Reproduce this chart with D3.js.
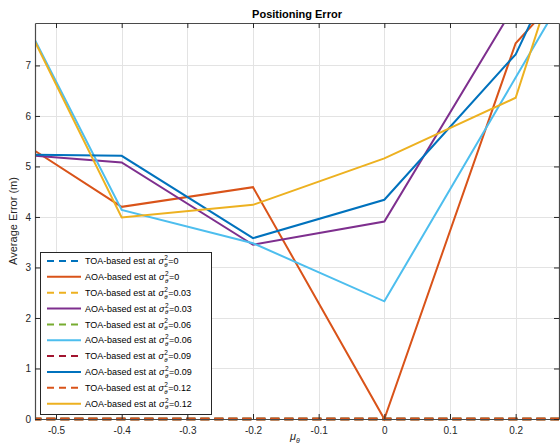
<!DOCTYPE html>
<html>
<head>
<meta charset="utf-8">
<script src="https://cdn.jsdelivr.net/npm/d3@7"></script>
<style>
  html, body { margin: 0; padding: 0; background: #fff; }
  svg { display: block; font-family: "Liberation Sans", Arial, Helvetica, sans-serif; }
</style>
</head>
<body>
<svg id="chart" width="560" height="448"></svg>
<script>
// Mean angle offset (mu_theta) at which the estimators were evaluated
const muTheta = [-0.6, -0.4, -0.2, 0, 0.2, 0.4];

// Average positioning error (m) for each noise variance
const toa000 = [0, 0, 0, 0, 0, 0];
const aoa000 = [5.88, 4.20, 4.59, 0.00, 7.44, 10.27];
const toa003 = [0, 0, 0, 0, 0, 0];
const aoa003 = [5.28, 5.08, 3.45, 3.91, 8.22, null];
const toa006 = [0, 0, 0, 0, 0, 0];
const aoa006 = [9.23, 4.14, 3.48, 2.33, 6.76, 11.19];
const toa009 = [0, 0, 0, 0, 0, 0];
const aoa009 = [5.24, 5.21, 3.58, 4.34, 7.22, 12.70];
const toa012 = [0, 0, 0, 0, 0, 0];
const aoa012 = [9.26, 3.99, 4.24, 5.16, 6.36, 14.40];

const varianceLabels = ["0", "0", "0.03", "0.03", "0.06", "0.06", "0.09", "0.09", "0.12", "0.12"];
const methodLabels = ["TOA", "AOA", "TOA", "AOA", "TOA", "AOA", "TOA", "AOA", "TOA", "AOA"];
const xTicks = [-0.5, -0.4, -0.3, -0.2, -0.1, 0, 0.1, 0.2];
const yTicks = [0, 1, 2, 3, 4, 5, 6, 7];

const colors = ["#0072BD", "#D95319", "#EDB120", "#7E2F8E", "#77AC30",
                "#4DBEEE", "#A2142F", "#0072BD", "#D95319", "#EDB120"];
const seriesValues = [toa000, aoa000, toa003, aoa003, toa006, aoa006, toa009, aoa009, toa012, aoa012];

const series = seriesValues.map((vals, i) => ({
  method: methodLabels[i],
  variance: varianceLabels[i],
  color: colors[i],
  dashed: methodLabels[i] === "TOA",
  points: muTheta.map((x, j) => ({ x, y: vals[j] }))
}));

const svg = d3.select("#chart");
const plot = { left: 35, top: 23, right: 559, bottom: 419 };

const x = d3.scaleLinear().domain([-0.532, 0.266]).range([plot.left, plot.right]);
const y = d3.scaleLinear().domain([0, 7.84]).range([plot.bottom, plot.top]);

// grid
const grid = svg.append("g").attr("stroke", "#e3e3e3").attr("stroke-width", 1);
xTicks.forEach(t => grid.append("line")
  .attr("x1", Math.round(x(t)) + 0.5).attr("x2", Math.round(x(t)) + 0.5)
  .attr("y1", plot.top).attr("y2", plot.bottom));
yTicks.forEach(t => grid.append("line")
  .attr("x1", plot.left).attr("x2", plot.right)
  .attr("y1", Math.round(y(t)) + 0.5).attr("y2", Math.round(y(t)) + 0.5));

// clip region for the data
svg.append("clipPath").attr("id", "clip")
  .append("rect")
  .attr("x", plot.left).attr("y", plot.top)
  .attr("width", plot.right - plot.left).attr("height", plot.bottom - plot.top + 4);

const line = d3.line()
  .defined(d => d.y !== null)
  .x(d => x(d.x)).y(d => y(d.y));

const lines = svg.append("g").attr("clip-path", "url(#clip)");
series.forEach(s => {
  lines.append("path")
    .datum(s.points)
    .attr("fill", "none")
    .attr("stroke", s.color)
    .attr("stroke-width", s.dashed ? 2.6 : 2)
    .attr("stroke-dasharray", s.dashed ? "9,5" : null)
    .attr("d", line);
});

// axes (box with inward ticks on all four sides)
const tickLen = 5;
const axisColor = "#4a4a4a";
const bottomAxis = d3.axisBottom(x).tickValues(xTicks).tickSizeInner(-tickLen).tickSizeOuter(0)
  .tickFormat(d => String(+d.toFixed(1)));
const leftAxis = d3.axisLeft(y).tickValues(yTicks).tickSizeInner(-tickLen).tickSizeOuter(0);
const topAxis = d3.axisTop(x).tickValues(xTicks).tickSizeInner(-tickLen).tickSizeOuter(0).tickFormat("");
const rightAxis = d3.axisRight(y).tickValues(yTicks).tickSizeInner(-tickLen).tickSizeOuter(0).tickFormat("");

function styleAxis(g) {
  g.select(".domain").attr("stroke", axisColor).attr("stroke-width", 1.2);
  g.selectAll(".tick line").attr("stroke", "#262626");
  g.selectAll(".tick text").attr("fill", "#262626").attr("font-size", 10)
    .attr("font-family", "Liberation Sans, Arial, sans-serif");
}

svg.append("g").attr("transform", `translate(0,${plot.bottom})`).call(bottomAxis).call(styleAxis)
  .selectAll(".tick text").attr("y", 6).attr("dy", "0.9em");
svg.append("g").attr("transform", `translate(${plot.left},0)`).call(leftAxis).call(styleAxis)
  .selectAll(".tick text").attr("x", -4);
svg.append("g").attr("transform", `translate(0,${plot.top})`).call(topAxis).call(styleAxis);
svg.append("g").attr("transform", `translate(${plot.right},0)`).call(rightAxis).call(styleAxis);

// title and axis labels
svg.append("text")
  .attr("x", (plot.left + plot.right) / 2).attr("y", 17.5)
  .attr("text-anchor", "middle").attr("font-size", 11).attr("font-weight", "bold")
  .attr("fill", "#000").text("Positioning Error");

svg.append("text")
  .attr("transform", `translate(17,${(plot.top + plot.bottom) / 2}) rotate(-90)`)
  .attr("text-anchor", "middle").attr("font-size", 11).attr("fill", "#262626")
  .text("Average Error (m)");

const xl = svg.append("text")
  .attr("x", (plot.left + plot.right) / 2 - 2).attr("y", 440)
  .attr("text-anchor", "middle").attr("font-size", 11).attr("fill", "#262626");
xl.append("tspan").attr("font-style", "italic").text("μ");
xl.append("tspan").attr("font-size", 7).attr("font-style", "italic").attr("dy", 3).text("θ");

// legend
const lg = { x: 40, y: 252, w: 171, h: 162, row: 15.85, first: 261 };
const legend = svg.append("g");
legend.append("rect")
  .attr("x", lg.x + 0.5).attr("y", lg.y + 0.5).attr("width", lg.w).attr("height", lg.h)
  .attr("fill", "#fff").attr("stroke", "#262626").attr("stroke-width", 1);

series.forEach((s, i) => {
  const cy = lg.first + i * lg.row;
  legend.append("line")
    .attr("x1", 47).attr("x2", 81).attr("y1", cy).attr("y2", cy)
    .attr("stroke", s.color).attr("stroke-width", 2)
    .attr("stroke-dasharray", s.dashed ? "7,5" : null);
  const fs = 9;
  const base = cy + 3.2;
  const t1 = legend.append("text").attr("x", 85).attr("y", base)
    .attr("font-size", fs).attr("fill", "#000")
    .text(`${s.method}-based est at\u00A0`);
  let cx = 85 + t1.node().getComputedTextLength() + 0.5;
  const sig = legend.append("text").attr("x", cx).attr("y", base)
    .attr("font-size", fs).attr("font-style", "italic").attr("fill", "#000").text("σ");
  cx += sig.node().getComputedTextLength() + 0.4;
  const sup = legend.append("text").attr("x", cx).attr("y", base - 4.2)
    .attr("font-size", 6.5).attr("fill", "#000").text("2");
  const sub = legend.append("text").attr("x", cx).attr("y", base + 2.6)
    .attr("font-size", 6).attr("font-style", "italic").attr("fill", "#000").text("θ");
  cx += Math.max(sup.node().getComputedTextLength(), sub.node().getComputedTextLength()) + 0.4;
  legend.append("text").attr("x", cx).attr("y", base)
    .attr("font-size", fs).attr("fill", "#000").text(`=${s.variance}`);
});
</script>
</body>
</html>
